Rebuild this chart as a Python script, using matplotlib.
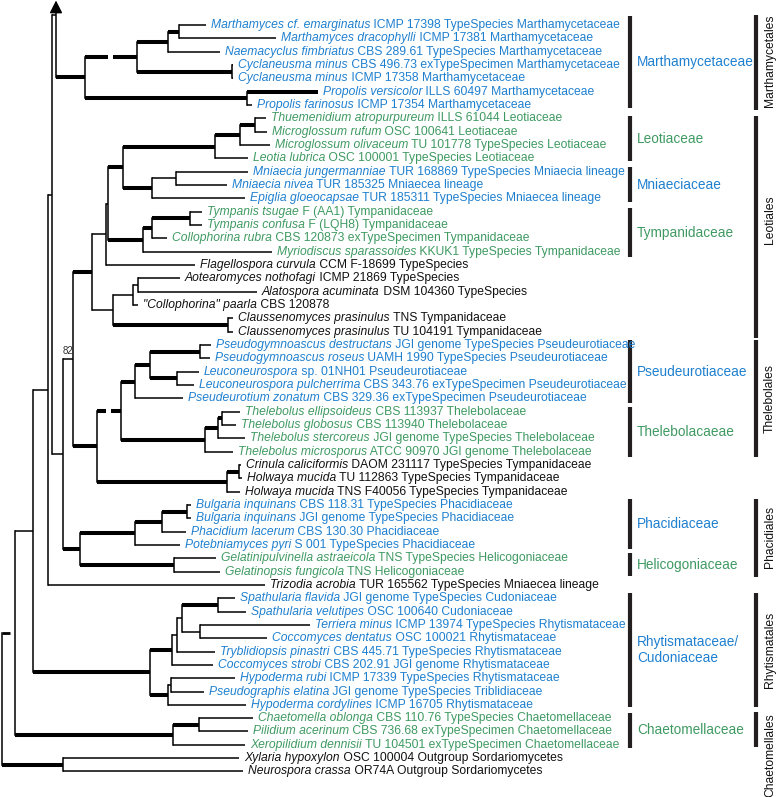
import matplotlib
matplotlib.use("Agg")
import matplotlib.pyplot as plt

plt.rcParams["font.family"] = ["Liberation Sans", "DejaVu Sans"]

BLUE = "#1f80cf"
GREEN = "#3f9a62"
BLACK = "#111111"

# leaf labels: italic part, plain part, colour group
LEAVES = [
    ("Marthamyces cf. emarginatus", "ICMP 17398 TypeSpecies Marthamycetaceae", "b"),
    ("Marthamyces dracophylli", "ICMP 17381 Marthamycetaceae", "b"),
    ("Naemacyclus fimbriatus", "CBS 289.61 TypeSpecies Marthamycetaceae", "b"),
    ("Cyclaneusma minus", "CBS 496.73 exTypeSpecimen Marthamycetaceae", "b"),
    ("Cyclaneusma minus", "ICMP 17358 Marthamycetaceae", "b"),
    ("Propolis versicolor", "ILLS 60497 Marthamycetaceae", "b"),
    ("Propolis farinosus", "ICMP 17354 Marthamycetaceae", "b"),
    ("Thuemenidium atropurpureum", "ILLS 61044 Leotiaceae", "g"),
    ("Microglossum rufum", "OSC 100641 Leotiaceae", "g"),
    ("Microglossum olivaceum", "TU 101778 TypeSpecies Leotiaceae", "g"),
    ("Leotia lubrica", "OSC 100001 TypeSpecies Leotiaceae", "g"),
    ("Mniaecia jungermanniae", "TUR 168869 TypeSpecies Mniaecia lineage", "b"),
    ("Mniaecia nivea", "TUR 185325 Mniaecea lineage", "b"),
    ("Epiglia gloeocapsae", "TUR 185311 TypeSpecies Mniaecea lineage", "b"),
    ("Tympanis tsugae", "F (AA1) Tympanidaceae", "g"),
    ("Tympanis confusa", "F (LQH8) Tympanidaceae", "g"),
    ("Collophorina rubra", "CBS 120873 exTypeSpecimen Tympanidaceae", "g"),
    ("Myriodiscus sparassoides", "KKUK1 TypeSpecies Tympanidaceae", "g"),
    ("Flagellospora curvula", "CCM F-18699 TypeSpecies", "k"),
    ("Aotearomyces nothofagi", "ICMP 21869 TypeSpecies", "k"),
    ("Alatospora acuminata", "DSM 104360 TypeSpecies", "k"),
    ("\"Collophorina\" paarla", "CBS 120878", "k"),
    ("Claussenomyces prasinulus", "TNS Tympanidaceae", "k"),
    ("Claussenomyces prasinulus", "TU 104191 Tympanidaceae", "k"),
    ("Pseudogymnoascus destructans", "JGI genome TypeSpecies Pseudeurotiaceae", "b"),
    ("Pseudogymnoascus roseus", "UAMH 1990 TypeSpecies Pseudeurotiaceae", "b"),
    ("Leuconeurospora", "sp. 01NH01 Pseudeurotiaceae", "b"),
    ("Leuconeurospora pulcherrima", "CBS 343.76 exTypeSpecimen Pseudeurotiaceae", "b"),
    ("Pseudeurotium zonatum", "CBS 329.36 exTypeSpecimen Pseudeurotiaceae", "b"),
    ("Thelebolus ellipsoideus", "CBS 113937 Thelebolaceae", "g"),
    ("Thelebolus globosus", "CBS 113940 Thelebolaceae", "g"),
    ("Thelebolus stercoreus", "JGI genome TypeSpecies Thelebolaceae", "g"),
    ("Thelebolus microsporus", "ATCC 90970 JGI genome Thelebolaceae", "g"),
    ("Crinula caliciformis", "DAOM 231117 TypeSpecies Tympanidaceae", "k"),
    ("Holwaya mucida", "TU 112863 TypeSpecies Tympanidaceae", "k"),
    ("Holwaya mucida", "TNS F40056 TypeSpecies Tympanidaceae", "k"),
    ("Bulgaria inquinans", "CBS 118.31 TypeSpecies Phacidiaceae", "b"),
    ("Bulgaria inquinans", "JGI genome TypeSpecies Phacidiaceae", "b"),
    ("Phacidium lacerum", "CBS 130.30 Phacidiaceae", "b"),
    ("Potebniamyces pyri", "S 001 TypeSpecies Phacidiaceae", "b"),
    ("Gelatinipulvinella astraeicola", "TNS TypeSpecies Helicogoniaceae", "g"),
    ("Gelatinopsis fungicola", "TNS Helicogoniaceae", "g"),
    ("Trizodia acrobia", "TUR 165562 TypeSpecies Mniaecea lineage", "k"),
    ("Spathularia flavida", "JGI genome TypeSpecies Cudoniaceae", "b"),
    ("Spathularia velutipes", "OSC 100640 Cudoniaceae", "b"),
    ("Terriera minus", "ICMP 13974 TypeSpecies Rhytismataceae", "b"),
    ("Coccomyces dentatus", "OSC 100021 Rhytismataceae", "b"),
    ("Tryblidiopsis pinastri", "CBS 445.71 TypeSpecies Rhytismataceae", "b"),
    ("Coccomyces strobi", "CBS 202.91 JGI genome Rhytismataceae", "b"),
    ("Hypoderma rubi", "ICMP 17339 TypeSpecies Rhytismataceae", "b"),
    ("Pseudographis elatina", "JGI genome TypeSpecies Triblidiaceae", "b"),
    ("Hypoderma cordylines", "ICMP 16705 Rhytismataceae", "b"),
    ("Chaetomella oblonga", "CBS 110.76 TypeSpecies Chaetomellaceae", "g"),
    ("Pilidium acerinum", "CBS 736.68 exTypeSpecimen Chaetomellaceae", "g"),
    ("Xeropilidium dennisii", "TU 104501 exTypeSpecimen Chaetomellaceae", "g"),
    ("Xylaria hypoxylon", "OSC 100004 Outgroup Sordariomycetes", "k"),
    ("Neurospora crassa", "OR74A Outgroup Sordariomycetes", "k"),
]

# tip depth of every leaf (tree drawn in pixel-like depth units)
LEAF_DEPTH = [206, 276, 220, 233, 233, 318, 252, 266, 267, 270, 248, 248, 227, 245,
              202, 202, 167, 272, 195, 180, 257, 138, 233, 233, 211, 210, 199, 194,
              183, 240, 236, 245, 233, 241, 242, 240, 191, 191, 186, 180, 216, 220,
              265, 235, 246, 310, 267, 215, 213, 235, 204, 246, 253, 248, 245, 239, 243]

# internal nodes: name -> (depth, children); ints are leaf indices
NODES = {
    "m179": (179, [0, 1]), "m168": (168, ["m179", 2]), "m232": (232, [3, 4]),
    "m137": (137, ["m168", "m232"]), "m247": (247, [5, 6]), "m85": (85, ["m137", "m247"]),
    "l255": (255, [7, 8]), "l240": (240, ["l255", 9]), "l215": (215, ["l240", 10]),
    "l176": (176, [11, 12]), "l152": (152, ["l176", 13]), "l123": (123, ["l215", "l152"]),
    "l190": (190, [14, 15]), "l152b": (152, ["l190", 16]), "l143": (143, ["l152b", 17]),
    "la": (108, ["l123", "l143"]), "lb": (106, ["la", 18]),
    "l138": (138, [19, 20]), "l133": (133, ["l138", 21]), "l228": (228, [22, 23]),
    "l113": (113, ["l133", "l228"]), "l92": (92, ["lb", "l113"]),
    "t200": (200, [24, 25]), "t177": (177, [26, 27]), "t150": (150, ["t200", "t177"]),
    "t135": (135, ["t150", 28]), "t222": (222, [29, 30]), "t218": (218, ["t222", 31]),
    "t205": (205, ["t218", 32]), "t121": (121, ["t135", "t205"]),
    "t239": (239, [33, 34]), "t227": (227, ["t239", 35]), "t97": (97, ["t121", "t227"]),
    "n73": (73, ["l92", "t97"]),
    "p187": (187, [36, 37]), "p162": (162, ["p187", 38]), "p135": (135, ["p162", 39]),
    "p174": (174, [40, 41]), "p80": (80, ["p135", "p174"]),
    "n63": (63, ["n73", "p80"]),
    "n52": (52, ["m85", "n63"]),
    "n48": (48, ["n52", 42]),
    "r218": (218, [43, 44]), "r200": (200, [45, 46]), "r182": (182, ["r218", "r200"]),
    "r177": (177, ["r182", 47]), "r172": (172, ["r177", 48]),
    "r171": (171, [49, 50]), "r168": (168, ["r171", 51]), "r150": (150, ["r172", "r168"]),
    "n33": (33, ["n48", "r150"]),
    "c199": (199, [52, 53]), "c173": (173, ["c199", 54]),
    "n15": (15, ["n33", "c173"]),
    "o63": (63, [55, 56]),
    "root": (2, ["n15", "o63"]),
}

THICK = {"m85", "m137", "m168", "m179", "m232", "m247", 5,
         "l92", "l123", "l215", "l240", "l255", "l152", "l143", "l152b", "l190", "l228",
         "t97", "t121", "t135", "t150", "t200", "t177", "t205", "t218", "t222", "t227", "t239",
         "p80", "p135", "p174", "p162", "p187",
         "r150", "r172", "r218", "r168", "c173", "c199", "o63"}
# broken (shortened) branches: child -> gap centre
BROKEN = {"m137": 111, "t121": 109, "n15": 12.5}

# the Marthamycetales stem is folded upwards and truncated with an arrow
MARTH_FOLD_Y = 15
MARTH_STEM_X = 56
N52_Y = 195

FAMILIES = [
    ("Marthamycetaceae", 16, 108, "b"), ("Leotiaceae", 116, 161, "g"),
    ("Mniaeciaceae", 167, 202, "b"), ("Tympanidaceae", 208, 257, "g"),
    ("Pseudeurotiaceae", 340, 403, "b"), ("Thelebolacaeae", 407, 457, "g"),
    ("Phacidiaceae", 499, 549, "b"), ("Helicogoniaceae", 553, 576, "g"),
    ("Rhytismataceae/\nCudoniaceae", 593, 707, "b"), ("Chaetomellaceae", 713, 748, "g"),
]
ORDERS = [
    ("Marthamycetales", 15, 110, 61), ("Leotiales", 116, 338, 220),
    ("Thelebolales", 340, 457, 398), ("Phacidiales", 499, 577, 537),
    ("Rhytismatales", 593, 707, 650), ("Chaetomellales", 712, 747, 755),
]

COLORS = {"b": BLUE, "g": GREEN, "k": BLACK}
Y0, DY = 25.0, 13.33
FS = 8.7
THIN, THICKW = 1.1, 2.9

fig = plt.figure(figsize=(7.78, 7.97), dpi=100)
ax = fig.add_axes([0, 0, 1, 1])
ax.set_xlim(0, 778)
ax.set_ylim(797, 0)
ax.axis("off")

ypos = {}


def node_y(n):
    if n in ypos:
        return ypos[n]
    if isinstance(n, int):
        y = Y0 + DY * n
    elif n == "n52":
        node_y("m85")
        node_y("n63")
        y = N52_Y
    else:
        kids = NODES[n][1]
        y = (node_y(kids[0]) + node_y(kids[-1])) / 2
    ypos[n] = y
    return y


def depth(n):
    return LEAF_DEPTH[n] if isinstance(n, int) else NODES[n][0]


def hline(x0, x1, y, lw, gap=None):
    kw = dict(color="black", lw=lw, solid_capstyle="butt")
    if gap is None:
        ax.plot([x0, x1], [y, y], **kw)
    else:
        ax.plot([x0, gap - 2.5], [y, y], **kw)
        ax.plot([gap + 2.5, x1], [y, y], **kw)


node_y("root")

for name, (x, kids) in NODES.items():
    ys = [node_y(k) for k in kids]
    top = min(ys)
    if name == "n52":
        top = MARTH_FOLD_Y
    ax.plot([x, x], [top, max(ys)], color="black", lw=THIN, solid_capstyle="projecting")
    for k in kids:
        if name == "n52" and k == "m85":
            # folded stem: short step right, up to the arrow, back down to the clade
            hline(x, MARTH_STEM_X, MARTH_FOLD_Y, THIN)
            ax.annotate("", xy=(MARTH_STEM_X, 0.5), xytext=(MARTH_STEM_X, node_y(k)),
                        arrowprops=dict(arrowstyle="-|>,head_length=0.75,head_width=0.38",
                                        lw=THIN, color="black", shrinkA=0, shrinkB=0))
            hline(MARTH_STEM_X, depth(k), node_y(k), THICKW)
            continue
        lw = THICKW if k in THICK else THIN
        if k == "n15":
            lw = 2.0
        hline(x, depth(k), node_y(k), lw, BROKEN.get(k))

# support value
ax.text(73, 351, "82", fontsize=7, color="#333333", ha="right", va="center")

# leaf labels (italic name followed by upright voucher text)
for i, (ital, rest, grp) in enumerate(LEAVES):
    c = COLORS[grp]
    t = ax.text(LEAF_DEPTH[i] + 5, node_y(i), ital, style="italic", color=c,
                fontsize=FS, ha="left", va="center")
    ax.annotate(" " + rest, xy=(1, 0), xycoords=t, ha="left", va="bottom",
                color=c, fontsize=FS)

# family brackets
for label, y0, y1, grp in FAMILIES:
    ax.plot([630, 630], [y0, y1], color="#231f20", lw=3.0, solid_capstyle="butt")
    ax.text(637, (y0 + y1) / 2, label, color=COLORS[grp], fontsize=9.8,
            ha="left", va="center", linespacing=1.15)

# order brackets
for label, y0, y1, yc in ORDERS:
    ax.plot([756, 756], [y0, y1], color="#231f20", lw=3.0, solid_capstyle="butt")
    ax.text(770, yc, label, color=BLACK, fontsize=FS, rotation=90,
            ha="center", va="center")

fig.savefig("out.png", dpi=100)
